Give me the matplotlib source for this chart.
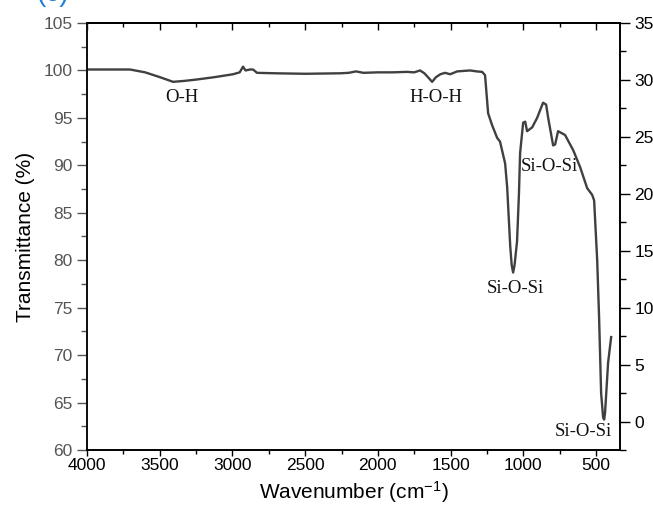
import numpy as np
import matplotlib.pyplot as plt
from matplotlib.ticker import MultipleLocator

plt.rcParams['font.family'] = ['Liberation Sans', 'DejaVu Sans']
plt.rcParams['mathtext.fontset'] = 'custom'
plt.rcParams['mathtext.rm'] = 'Liberation Sans'
plt.rcParams['mathtext.it'] = 'Liberation Sans'

# FTIR spectrum
wavenumber = [4000, 3850, 3704, 3600, 3500, 3408, 3330, 3243, 3120, 2996, 2950, 2927,
              2910, 2880, 2858, 2831, 2700, 2500, 2260, 2200, 2150, 2100, 2000, 1900,
              1800, 1750, 1710, 1680, 1650, 1627, 1600, 1570, 1538, 1503, 1455, 1410,
              1366, 1320, 1283, 1263, 1242, 1215, 1180, 1160, 1125, 1111, 1090, 1080,
              1070, 1060, 1043, 1030, 1022, 1001, 987, 974, 939, 905, 864, 843, 829,
              795, 781, 761, 713, 657, 609, 561, 527, 513, 506, 492, 479, 465, 451,
              444, 438, 417, 396]
transmittance = [100.1, 100.1, 100.1, 99.8, 99.3, 98.8, 98.9, 99.05, 99.3, 99.6, 99.8, 100.4,
                 100.0, 100.1, 100.1, 99.75, 99.7, 99.65, 99.7, 99.75, 99.9, 99.75, 99.8, 99.8,
                 99.85, 99.8, 100.0, 99.7, 99.2, 98.8, 99.3, 99.6, 99.75, 99.6, 99.9, 99.95,
                 100.0, 99.9, 99.85, 99.5, 95.5, 94.25, 92.9, 92.5, 90.2, 87.7, 81.5, 79.5,
                 78.7, 79.5, 82.0, 87.0, 91.3, 94.5, 94.6, 93.6, 94.0, 95.0, 96.6, 96.4, 95.0,
                 92.1, 92.2, 93.6, 93.2, 91.6, 89.8, 87.6, 86.9, 86.3, 84.2, 80.0, 74.0, 66.0,
                 63.4, 63.2, 63.9, 69.2, 71.9]

labels = ['O-H', 'H-O-H', 'Si-O-Si', 'Si-O-Si', 'Si-O-Si']
label_x = [3347, 1600, 823, 1057, 589]
label_y = [97.1, 97.1, 89.9, 77.0, 61.9]

fig = plt.figure(figsize=(6.53, 5.08), dpi=100)
ax = fig.add_axes([0.1332, 0.1142, 0.8163, 0.8405])

ax.plot(wavenumber, transmittance, color='#404040', lw=1.7)

for t, x, y in zip(labels, label_x, label_y):
    ax.text(x, y, t, ha='center', va='center', fontsize=13.5,
            family=['Liberation Serif', 'DejaVu Serif'], color='#111111')

ax.set_xlim(4000, 335)
ax.set_ylim(60, 105)
ax.xaxis.set_major_locator(MultipleLocator(500))
ax.xaxis.set_minor_locator(MultipleLocator(250))
ax.yaxis.set_major_locator(MultipleLocator(5))
ax.yaxis.set_minor_locator(MultipleLocator(2.5))

ax.tick_params(axis='x', which='both', direction='out', labelsize=12.5, top=False, pad=2)
ax.tick_params(axis='x', which='major', length=4, width=1)
ax.tick_params(axis='x', which='minor', length=3, width=1)
ax.tick_params(axis='y', which='major', length=7, width=1, labelsize=12.5,
               labelcolor='#555555', color='#555555')
ax.tick_params(axis='y', which='minor', length=4, width=1, color='#555555')

# inward ticks along the top edge
sec = ax.secondary_xaxis('top')
sec.xaxis.set_major_locator(MultipleLocator(500))
sec.xaxis.set_minor_locator(MultipleLocator(250))
sec.tick_params(axis='x', which='both', direction='in', labeltop=False)
sec.tick_params(axis='x', which='major', length=5, width=1)
sec.tick_params(axis='x', which='minor', length=3, width=1)
sec.spines['top'].set_linewidth(1.2)

ax2 = ax.twinx()
ax2.set_ylim(-2.5, 35)
ax2.yaxis.set_major_locator(MultipleLocator(5))
ax2.yaxis.set_minor_locator(MultipleLocator(2.5))
ax2.tick_params(axis='y', which='major', length=7, width=1, labelsize=12.5)
ax2.tick_params(axis='y', which='minor', length=4, width=1)

for a in (ax, ax2):
    for s in a.spines.values():
        s.set_linewidth(1.2)
ax.spines['left'].set_color('#555555')

ax.set_xlabel('Wavenumber (cm$^{-1}$)', fontsize=15, labelpad=4)
ax.set_ylabel('Transmittance (%)', fontsize=15, labelpad=6)

fig.text(0.055, 0.998, '(c)', color='#1f7fd6', fontsize=20, ha='left', va='baseline')

fig.savefig('out.png', dpi=100)
